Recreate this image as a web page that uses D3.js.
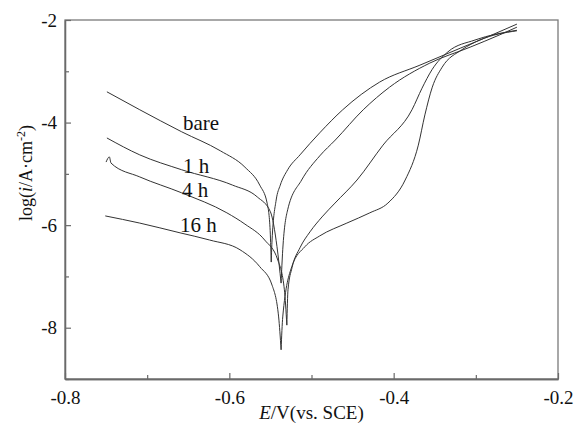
<!DOCTYPE html>
<html>
<head>
<meta charset="utf-8">
<script src="https://cdn.jsdelivr.net/npm/d3@7"></script>
<style>
  body { margin: 0; background: #fff; }
  svg { display: block; }
  text { font-family: "Liberation Serif", "Times New Roman", serif; fill: #111; }
</style>
</head>
<body>
<div id="chart"></div>
<script>
// potentiodynamic polarization curves, E (V vs SCE) and log(i)
var bareE = [-0.749, -0.709, -0.658, -0.611, -0.581, -0.563, -0.554, -0.5505, -0.549,
  -0.548, -0.543, -0.538, -0.529, -0.514, -0.490, -0.462, -0.417, -0.368, -0.319, -0.283, -0.250];
var bareLogI = [-3.40, -3.75, -4.18, -4.55, -4.87, -5.22, -5.57, -6.05, -6.72,
  -6.29, -5.51, -5.22, -4.92, -4.63, -4.20, -3.75, -3.21, -2.88, -2.55, -2.31, -2.08];

var h1E = [-0.749, -0.709, -0.658, -0.596, -0.566, -0.550, -0.542, -0.537,
  -0.535, -0.529, -0.512, -0.490, -0.471, -0.437, -0.405, -0.356, -0.307, -0.271, -0.250];
var h1LogI = [-4.30, -4.63, -4.92, -5.22, -5.45, -5.74, -6.42, -7.13,
  -6.48, -5.70, -5.12, -4.65, -4.34, -3.75, -3.31, -2.84, -2.53, -2.29, -2.14];

var h4E = [-0.750, -0.746, -0.744, -0.709, -0.658, -0.603, -0.581, -0.557, -0.541, -0.533, -0.530,
  -0.5286, -0.5237, -0.514, -0.5018, -0.4872, -0.4714, -0.4446, -0.413, -0.3777, -0.3655, -0.3534, -0.3339, -0.301, -0.250];
var h4LogI = [-4.77, -4.67, -4.79, -5.06, -5.37, -5.76, -5.98, -6.29, -6.68, -7.26, -7.95,
  -7.26, -6.83, -6.44, -6.13, -5.84, -5.57, -5.12, -4.44, -3.75, -3.33, -2.97, -2.62, -2.39, -2.20];

var h16E = [-0.751, -0.709, -0.660, -0.624, -0.587, -0.563, -0.548, -0.540, -0.537,
  -0.535, -0.524, -0.508, -0.490, -0.457, -0.429, -0.407, -0.386, -0.370, -0.362, -0.353, -0.341, -0.317, -0.295, -0.250];
var h16LogI = [-5.82, -5.96, -6.15, -6.29, -6.48, -6.81, -7.17, -7.79, -8.43,
  -7.79, -6.81, -6.42, -6.21, -5.96, -5.76, -5.57, -5.12, -4.44, -3.85, -3.31, -2.92, -2.58, -2.39, -2.21];

var seriesNames = ["bare", "1 h", "4 h", "16 h"];
// where each curve's name sits (E, logI of the baseline start)
var labelE = [-0.6564, -0.6564, -0.6576, -0.6600];
var labelLogI = [-4.14, -4.98, -5.45, -6.13];

var xTicks = [-0.8, -0.6, -0.4, -0.2];
var xMinor = [-0.7, -0.5, -0.3];
var yTicks = [-8, -6, -4, -2];
var yMinor = [-9, -7, -5, -3];

var width = 585, height = 430;
var margin = { top: 20, right: 27, bottom: 51, left: 65 };

var svg = d3.select("#chart").append("svg")
  .attr("width", width)
  .attr("height", height);

var x = d3.scaleLinear().domain([-0.8, -0.2]).range([margin.left, width - margin.right]);
var y = d3.scaleLinear().domain([-9, -2]).range([height - margin.bottom, margin.top]);

// frame
svg.append("rect")
  .attr("x", x(-0.8))
  .attr("y", y(-2))
  .attr("width", x(-0.2) - x(-0.8))
  .attr("height", y(-9) - y(-2))
  .attr("fill", "none")
  .attr("stroke", "#7a7a7a")
  .attr("stroke-width", 1.3);

// axes, ticks point inward
svg.append("g")
  .attr("transform", "translate(0," + y(-9) + ")")
  .call(d3.axisBottom(x).tickValues(xTicks).tickSizeInner(-6).tickSizeOuter(0)
    .tickPadding(12).tickFormat(function (d) { return d.toFixed(1); }));
svg.append("g")
  .attr("transform", "translate(0," + y(-9) + ")")
  .call(d3.axisBottom(x).tickValues(xMinor).tickSizeInner(-4).tickSizeOuter(0).tickFormat(""));

svg.append("g")
  .attr("transform", "translate(" + x(-0.8) + ",0)")
  .call(d3.axisLeft(y).tickValues(yTicks).tickSizeInner(-6).tickSizeOuter(0)
    .tickPadding(8).tickFormat(function (d) { return d.toFixed(0); }));
svg.append("g")
  .attr("transform", "translate(" + x(-0.8) + ",0)")
  .call(d3.axisLeft(y).tickValues(yMinor).tickSizeInner(-4).tickSizeOuter(0).tickFormat(""));

svg.selectAll(".domain").attr("stroke", "#6a6a6a").attr("stroke-width", 1.3);
svg.selectAll(".tick line").attr("stroke", "#6a6a6a").attr("stroke-width", 1.2);
svg.selectAll(".tick text")
  .style("font-family", "'Liberation Serif', 'Times New Roman', serif")
  .style("font-size", "19px")
  .attr("fill", "#111");

// curves: cathodic branch down to the corrosion potential, then anodic branch
var curves = [
  { E: bareE, L: bareLogI },
  { E: h1E, L: h1LogI },
  { E: h4E, L: h4LogI },
  { E: h16E, L: h16LogI }
];

var line = d3.line()
  .x(function (d) { return x(d[0]); })
  .y(function (d) { return y(d[1]); })
  .curve(d3.curveMonotoneX);

curves.forEach(function (c) {
  var pts = c.E.map(function (e, i) { return [e, c.L[i]]; });
  var k = d3.minIndex(c.L);
  [pts.slice(0, k + 1), pts.slice(k)].forEach(function (branch) {
    svg.append("path")
      .datum(branch)
      .attr("d", line)
      .attr("fill", "none")
      .attr("stroke", "#333")
      .attr("stroke-width", 1);
  });
});

// curve names
svg.selectAll(".lbl")
  .data(seriesNames)
  .enter()
  .append("text")
  .attr("class", "lbl")
  .attr("x", function (d, i) { return x(labelE[i]); })
  .attr("y", function (d, i) { return y(labelLogI[i]); })
  .style("font-size", "21px")
  .text(function (d) { return d; });

// axis titles
var xt = svg.append("text")
  .attr("x", (x(-0.8) + x(-0.2)) / 2)
  .attr("y", 419)
  .attr("text-anchor", "middle")
  .style("font-size", "19px");
xt.append("tspan").style("font-style", "italic").text("E");
xt.append("tspan").text("/V(vs. SCE)");

var yt = svg.append("text")
  .attr("transform", "translate(32,173) rotate(-90)")
  .attr("text-anchor", "middle")
  .style("font-size", "18px");
yt.append("tspan").text("log(");
yt.append("tspan").style("font-style", "italic").text("i");
yt.append("tspan").text("/A\u00b7cm");
yt.append("tspan").attr("dy", -7).style("font-size", "12px").text("-2");
yt.append("tspan").attr("dy", 7).text(")");
</script>
</body>
</html>
